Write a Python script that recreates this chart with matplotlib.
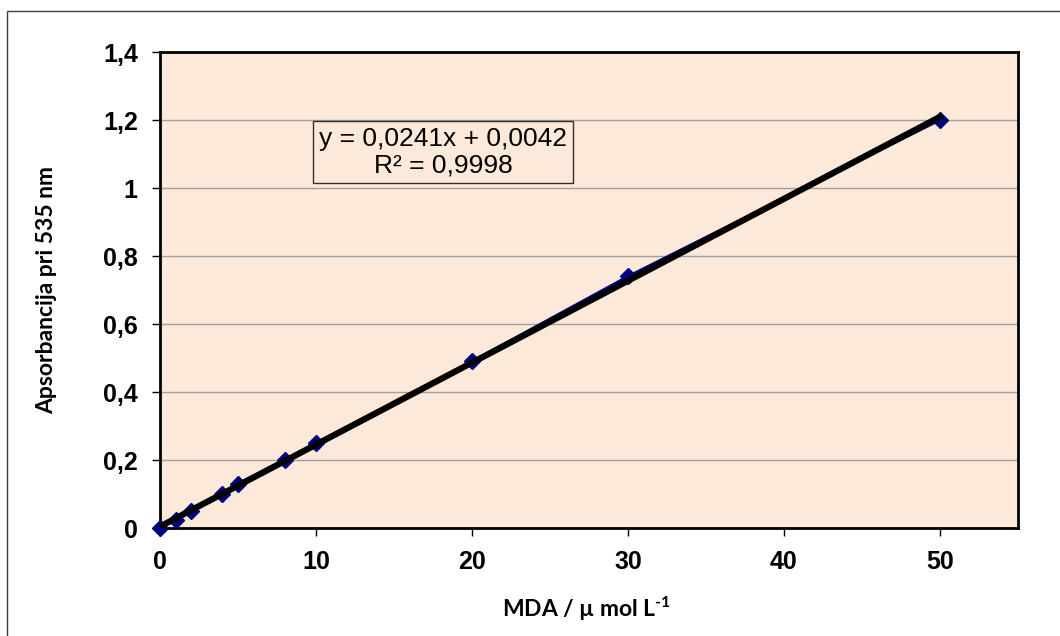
import matplotlib.pyplot as plt
from matplotlib.patches import Rectangle

# концентрації MDA та поглинання
mda = [0, 1, 2, 4, 5, 8, 10, 20, 30, 50]
absorb = [0.0, 0.025, 0.05, 0.10, 0.13, 0.20, 0.25, 0.49, 0.74, 1.20]
slope, intercept = 0.0241, 0.0042
y_ticks = [0, 0.2, 0.4, 0.6, 0.8, 1.0, 1.2, 1.4]
y_labels = ['0', '0,2', '0,4', '0,6', '0,8', '1', '1,2', '1,4']
x_ticks = [0, 10, 20, 30, 40, 50]

plt.rcParams['mathtext.fontset'] = 'custom'
plt.rcParams['mathtext.rm'] = 'Lato:bold'
plt.rcParams['mathtext.it'] = 'Lato:bold'
plt.rcParams['mathtext.bf'] = 'Lato:bold'

fig = plt.figure(figsize=(10.6, 6.36), dpi=100)
fig.patches.append(Rectangle((7 / 1060, -0.1), 1.2, 1 - 11 / 636 + 0.1,
                             transform=fig.transFigure, fill=False,
                             edgecolor='#404040', linewidth=1.0))

ax = fig.add_axes([160 / 1060, 1 - 528 / 636, 858 / 1060, 476 / 636])
ax.set_facecolor('#FDE9D9')

ax.plot(mda, absorb, color='#000080', linewidth=2, marker='D',
        markersize=8, zorder=3, clip_on=False)
fit_x = [0, 50]
fit_y = [intercept + slope * v for v in fit_x]
ax.plot(fit_x, fit_y, color='black', linewidth=4.5, zorder=4)

ax.set_xlim(0, 55)
ax.set_ylim(0, 1.4)
ax.set_yticks(y_ticks)
ax.set_yticklabels(y_labels)
ax.set_xticks(x_ticks)
ax.grid(axis='y', color='#a0a0a0', linewidth=1)
ax.set_axisbelow(True)
for s in ax.spines.values():
    s.set_linewidth(2)
    s.set_color('black')
ax.tick_params(direction='out', length=6, width=1, pad=10)
for lab in ax.get_xticklabels() + ax.get_yticklabels():
    lab.set_fontfamily('Liberation Sans')
    lab.set_fontweight('bold')
    lab.set_fontsize(18)

ax.set_xlabel('MDA / µ mol L$^{\\text{-1}}$', fontfamily='Lato',
              fontweight='bold', fontsize=16.5)
ax.set_ylabel('Apsorbancija pri 535 nm', fontfamily='Lato',
              fontweight='bold', fontsize=16.5)
ax.xaxis.set_label_coords(0.497, -0.141)
ax.yaxis.set_label_coords(-0.12, 0.5)

ax.text(443 / 1060, 1 - 152 / 636, 'y = 0,0241x + 0,0042\nR² = 0,9998',
        transform=fig.transFigure, ha='center', va='center',
        fontfamily='Liberation Sans', fontsize=19, linespacing=1.15,
        bbox=dict(boxstyle='square,pad=0.22', facecolor='#FDE9D9',
                  edgecolor='#303030', linewidth=1))

fig.savefig('out.png', dpi=100)
